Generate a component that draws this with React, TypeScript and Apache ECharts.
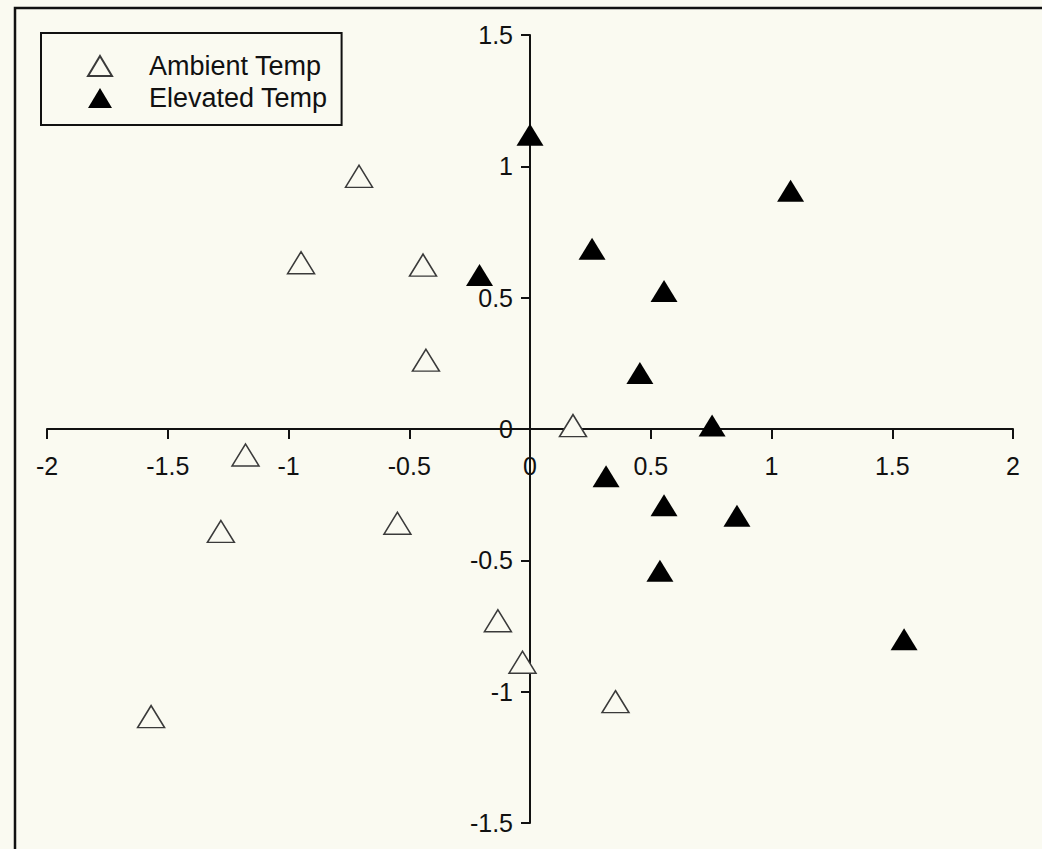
import React, { useEffect, useRef } from "react";
import * as echarts from "echarts";

// Ambient temperature group (open triangles)
const ambientX = [-0.708, -0.948, -0.443, -0.431, 0.178, -1.178, -1.28, -0.549, -0.133, -0.031, 0.354, -1.569];
const ambientY = [0.962, 0.633, 0.624, 0.262, 0.013, -0.099, -0.39, -0.359, -0.73, -0.888, -1.038, -1.095];

// Elevated temperature group (filled triangles)
const elevatedX = [0.0, 1.079, 0.257, 0.555, 0.455, 0.754, -0.209, 0.315, 0.555, 0.857, 0.538, 1.549];
const elevatedY = [1.12, 0.907, 0.686, 0.525, 0.213, 0.013, 0.586, -0.18, -0.29, -0.33, -0.54, -0.8];

const seriesNames = ["Ambient Temp", "Elevated Temp"];

const pairs = (xs: number[], ys: number[]) => xs.map((x, i) => [x, ys[i]]);

const FONT = "'Liberation Sans', Arial, sans-serif";
const INK = "#111111";
const PAPER = "#fafaf1";

// Plot area and axis ranges; both axes cross at zero, in the middle of each range
const W = 1042;
const H = 849;
const GRID = { left: 47, right: 29, top: 35, bottom: 26 };
const X_RANGE = [-2, 2];
const Y_RANGE = [-1.5, 1.5];

export default function App() {
  const ref = useRef<HTMLDivElement>(null);

  useEffect(() => {
    if (!ref.current) return;
    const chart = echarts.init(ref.current, undefined, { renderer: "svg" });

    const gridW = W - GRID.left - GRID.right;
    const gridH = H - GRID.top - GRID.bottom;
    // Shift each axis from the grid edge inward to the other axis' zero
    const xAxisShift = -gridH * (0 - Y_RANGE[0]) / (Y_RANGE[1] - Y_RANGE[0]);
    const yAxisShift = -gridW * (0 - X_RANGE[0]) / (X_RANGE[1] - X_RANGE[0]);

    chart.setOption({
      animation: false,
      backgroundColor: PAPER,
      textStyle: { fontFamily: FONT, color: INK },
      graphic: [
        {
          type: "rect",
          silent: true,
          shape: { x: 15, y: 8, width: 1200, height: 1000 },
          style: { fill: "none", stroke: INK, lineWidth: 2.5 },
        },
      ],
      grid: { ...GRID, containLabel: false, outerBoundsMode: "none" },
      legend: {
        orient: "vertical",
        left: 41,
        top: 33,
        data: seriesNames,
        backgroundColor: PAPER,
        borderColor: INK,
        borderWidth: 2,
        padding: [17, 14, 11, 46],
        itemWidth: 24,
        itemHeight: 20,
        itemGap: 0,
        textStyle: {
          fontFamily: FONT,
          fontSize: 27,
          color: INK,
          lineHeight: 32,
          padding: [0, 0, 0, 32],
        },
      },
      xAxis: {
        type: "value",
        position: "bottom",
        offset: xAxisShift,
        min: X_RANGE[0],
        max: X_RANGE[1],
        interval: 0.5,
        axisLine: { onZero: false, lineStyle: { color: INK, width: 2 } },
        axisTick: { show: true, inside: false, length: 10, lineStyle: { color: INK, width: 2 } },
        axisLabel: { fontFamily: FONT, fontSize: 25, color: INK, margin: 24 },
        splitLine: { show: false },
      },
      yAxis: {
        type: "value",
        position: "left",
        offset: yAxisShift,
        min: Y_RANGE[0],
        max: Y_RANGE[1],
        interval: 0.5,
        axisLine: { onZero: false, lineStyle: { color: INK, width: 2 } },
        axisTick: { show: true, inside: false, length: 9, lineStyle: { color: INK, width: 2 } },
        axisLabel: { fontFamily: FONT, fontSize: 25, color: INK, margin: 17 },
        splitLine: { show: false },
      },
      series: [
        {
          name: seriesNames[0],
          type: "scatter",
          symbol: "triangle",
          symbolSize: [27, 22],
          data: pairs(ambientX, ambientY),
          itemStyle: { color: PAPER, borderColor: "#3a3a3a", borderWidth: 1.5, opacity: 1 },
          z: 3,
        },
        {
          name: seriesNames[1],
          type: "scatter",
          symbol: "triangle",
          symbolSize: [27, 22],
          data: pairs(elevatedX, elevatedY),
          itemStyle: { color: "#000000", opacity: 1 },
          z: 4,
        },
      ],
    });
    return () => chart.dispose();
  }, []);

  return (
    <div
      ref={ref}
      style={{ position: "fixed", left: 0, top: 0, width: W, height: H }}
    />
  );
}
